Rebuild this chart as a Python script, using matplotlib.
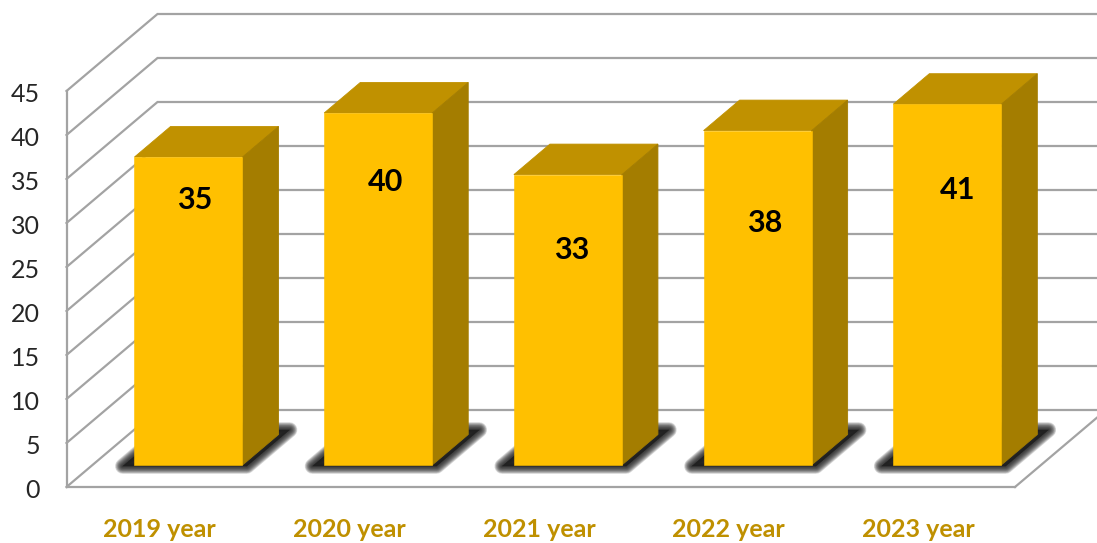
import matplotlib
matplotlib.use("Agg")
import matplotlib.pyplot as plt
from matplotlib.transforms import ScaledTranslation
import numpy as np

plt.rcParams['font.family'] = ['Lato', 'DejaVu Sans']

# chart data
years = ['2019 year', '2020 year', '2021 year', '2022 year', '2023 year']
values = [35, 40, 33, 38, 41]
y_ticks = [0, 5, 10, 15, 20, 25, 30, 35, 40, 45]

# where the value labels sit on the bars (they were placed by hand in the original)
label_heights = [32.6, 34.7, 26.9, 30.0, 33.8]
label_shifts = [0.035, 0.038, 0.022, 0.035, 0.055]

FRONT = '#ffc000'
TOP = '#c09100'
SIDE = '#a47d00'
GRID = '#a3a3a3'
LABEL = '#bf9000'

W, H = 1097, 543
fig = plt.figure(figsize=(W / 100, H / 100), dpi=100)
# axes box is the front plane of the fake 3D chart
left, right, bottom, top = 66.5, 1015, 487, 91
ax = fig.add_axes([left / W, 1 - bottom / H, (right - left) / W, (bottom - top) / H])
ax.set_xlim(0, 5)
ax.set_ylim(0, 45)
ax.patch.set_visible(False)

# full depth of the floor, in data units
depth_x = 91 / ((right - left) / 5)
depth_y = 77 / ((bottom - top) / 45)


def proj(x, y, d):
    # move a point back into the chart, d=0 front and d=1 back wall
    return x + d * depth_x, y + d * depth_y


# walls
for v in y_ticks:
    x0, y0 = proj(0, v, 0)
    x1, y1 = proj(0, v, 1)
    x2, y2 = proj(5, v, 1)
    ax.plot([x0, x1, x2], [y0, y1, y2], color=GRID, lw=1.6, clip_on=False, zorder=1,
            solid_joinstyle='miter')
x1, y1 = proj(5, 0, 1)
ax.plot([5, x1], [0, y1], color=GRID, lw=1.6, clip_on=False, zorder=1)

bar_w = 108 / ((right - left) / 5)
d_front = 22 / 77
d_back = d_front + 30.5 / 77
centers = np.arange(len(values)) + 0.506

# soft shadow on the floor, layered polygons fake the blur
for c in centers:
    xa = c - bar_w / 2 - 0.055
    xb = c + bar_w / 2 + 0.03
    d0 = d_front - 0.015
    d1 = d_back + 0.06
    pts = [proj(xa, 0, d0), proj(xb, 0, d0), proj(xb, 0, d1), proj(xa, 0, d1)]
    for lw in np.arange(11, 0, -1):
        ax.fill(*zip(*pts), facecolor='#1e1e1e', edgecolor='#1e1e1e', lw=lw, alpha=0.16,
                joinstyle='round', zorder=2, clip_on=False)

# the bars
for i, v in enumerate(values):
    c = centers[i]
    xa = c - bar_w / 2
    xb = c + bar_w / 2
    top_pts = [proj(xa, v, d_front), proj(xb, v, d_front), proj(xb, v, d_back), proj(xa, v, d_back)]
    side_pts = [proj(xb, 0, d_front), proj(xb, v, d_front), proj(xb, v, d_back), proj(xb, 0, d_back)]
    front_pts = [proj(xa, 0, d_front), proj(xb, 0, d_front), proj(xb, v, d_front), proj(xa, v, d_front)]
    # thin same-colour edges so nothing shines through the seams
    ax.fill(*zip(*top_pts), facecolor=TOP, edgecolor=TOP, lw=0.6, zorder=3, clip_on=False)
    ax.fill(*zip(*side_pts), facecolor=SIDE, edgecolor=SIDE, lw=0.6, zorder=3, clip_on=False)
    ax.fill(*zip(*front_pts), facecolor=FRONT, edgecolor=FRONT, lw=0.4, zorder=4, clip_on=False)
    ax.text(c + d_front * depth_x + label_shifts[i], label_heights[i], str(v), ha='center', va='center',
            fontsize=22, fontweight='bold', color='black', zorder=5)

# axis
ax.set_yticks(y_ticks)
ax.set_yticklabels([str(v) for v in y_ticks], fontsize=18, color='#262626')
ax.set_xticks(centers - 0.015)
ax.set_xticklabels(years, fontsize=18, fontweight='bold', color=LABEL)
ax.tick_params(axis='both', length=0)
ax.tick_params(axis='y', pad=19)
ax.tick_params(axis='x', pad=22.5)
# tick numbers sit a little lower than the lines in the original
down = ScaledTranslation(0, -2 / 100, fig.dpi_scale_trans)
for lab in ax.get_yticklabels():
    lab.set_transform(lab.get_transform() + down)
for name in ['top', 'right']:
    ax.spines[name].set_visible(False)
for name in ['left', 'bottom']:
    ax.spines[name].set_color(GRID)
    ax.spines[name].set_linewidth(1.6)
    ax.spines[name].set_zorder(1)

fig.savefig('out.png', dpi=100, facecolor='white')
